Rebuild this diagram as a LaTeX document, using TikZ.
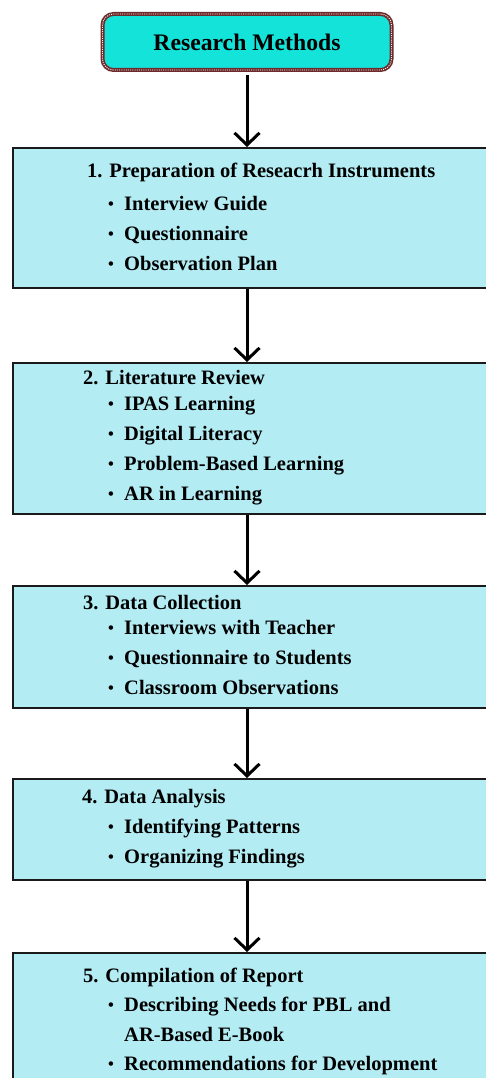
\documentclass[tikz,border=0pt]{standalone}
\usepackage{fontspec}
\setmainfont{Liberation Serif}
\usetikzlibrary{arrows.meta}

\definecolor{titlefill}{HTML}{14E3DA}
\definecolor{titleedge}{HTML}{6E2B2B}
\definecolor{stagefill}{HTML}{B4ECF4}
\definecolor{stageedge}{HTML}{1A1A1A}

% small bullet followed by a fixed gap before the item text
\newcommand{\itembul}{\makebox[16pt][l]{\raisebox{0.6pt}{\fontsize{16.5}{16}\selectfont\bfseries •}}}

\tikzset{
  titlebox/.style={draw=titleedge, line width=4pt, fill=titlefill,
    rounded corners=11pt, minimum width=289pt, minimum height=56pt,
    inner sep=0pt,
    postaction={draw=white, line width=0.9pt, dash pattern=on 1pt off 1.2pt}},
  stagebox/.style={draw=stageedge, line width=2pt, fill=stagefill,
    anchor=north west, minimum width=520pt, inner sep=0pt},
  head/.style={anchor=base west, inner sep=0pt,
    font=\fontsize{20.5}{24}\selectfont\bfseries},
  entry/.style={anchor=base west, inner sep=0pt,
    font=\fontsize{20.5}{24}\selectfont\bfseries},
  flow/.style={draw=black, line width=3pt,
    -{Straight Barb[length=12pt, width=25pt]}},
}

\begin{document}
\begin{tikzpicture}[x=1pt, y=-1pt]
\useasboundingbox (0,0) rectangle (486,1078);
\clip (0,0) rectangle (486,1078);

% title
\node[titlebox, font=\fontsize{23.7}{26}\selectfont\bfseries] (title) at (247,42)
  {Research Methods};

% stage boxes
\node[stagebox, minimum height=140pt] (b1) at (12,147) {};
\node[stagebox, minimum height=151pt] (b2) at (12,362) {};
\node[stagebox, minimum height=122pt] (b3) at (12,585) {};
\node[stagebox, minimum height=101pt] (b4) at (12,778) {};
\node[stagebox, minimum height=160pt] (b5) at (12,952) {};

% 1
\node[head]  (h1)  at (87,178) {1. Preparation of Reseacrh Instruments};
\node[entry] (e1a) at (108,210) {\itembul Interview Guide};
\node[entry] (e1b) at (108,240) {\itembul Questionnaire};
\node[entry] (e1c) at (108,270) {\itembul Observation Plan};

% 2
\node[head]  (h2)  at (83,384) {2. Literature Review};
\node[entry] (e2a) at (108,410) {\itembul IPAS Learning};
\node[entry] (e2b) at (108,440) {\itembul Digital Literacy};
\node[entry] (e2c) at (108,470) {\itembul Problem-Based Learning};
\node[entry] (e2d) at (108,500) {\itembul AR in Learning};

% 3
\node[head]  (h3)  at (83,609) {3. Data Collection};
\node[entry] (e3a) at (108,634) {\itembul Interviews with Teacher};
\node[entry] (e3b) at (108,664) {\itembul Questionnaire to Students};
\node[entry] (e3c) at (108,694) {\itembul Classroom Observations};

% 4
\node[head]  (h4)  at (82,803) {4. Data Analysis};
\node[entry] (e4a) at (108,833) {\itembul Identifying Patterns};
\node[entry] (e4b) at (108,863) {\itembul Organizing Findings};

% 5
\node[head]  (h5)  at (83,982) {5. Compilation of Report};
\node[entry] (e5a) at (108,1011) {\itembul Describing Needs for PBL and};
\node[entry] (e5w) at (124,1041) {AR-Based E-Book};
\node[entry] (e5b) at (108,1070) {\itembul Recommendations for Development};

% connectors
\draw[flow, shorten <=3pt] (title.south) -- (title.south |- b1.north);
\draw[flow] (b1.south -| title.south) -- (b2.north -| title.south);
\draw[flow] (b2.south -| title.south) -- (b3.north -| title.south);
\draw[flow] (b3.south -| title.south) -- (b4.north -| title.south);
\draw[flow] (b4.south -| title.south) -- (b5.north -| title.south);
\end{tikzpicture}
\end{document}
